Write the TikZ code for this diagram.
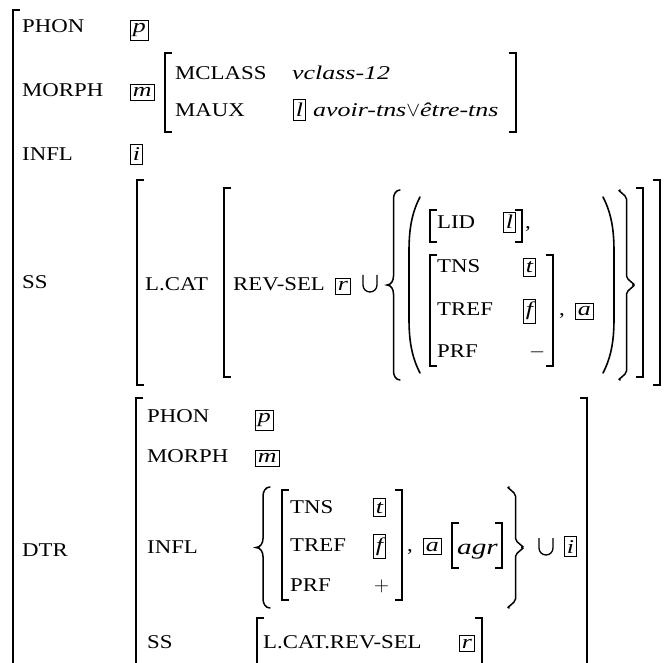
\documentclass[tikz,border=0pt]{standalone}
\usepackage{fontspec}
\setmainfont{Liberation Serif}[FakeStretch=1.17,ItalicFeatures={FakeStretch=1.33}]
\tikzset{
  lab/.style={anchor=base west, inner sep=0pt},
  tag/.style={draw, line width=0.5pt, inner xsep=2.6pt, inner ysep=3.5pt, anchor=base west, font=\fontsize{19.5}{23}\selectfont\itshape},
  brk/.style={line width=1.2pt},
  brc/.style={line width=1.5pt, line cap=round},
  prn/.style={line width=1.6pt, line cap=round},
  cupsym/.style={line width=1.3pt}
}
% square brackets: x, top, bottom
\newcommand\lbr[3]{\draw[brk] (#1+7,#2) -- (#1,#2) -- (#1,#3) -- (#1+7,#3);}
\newcommand\rbr[3]{\draw[brk] (#1-7,#2) -- (#1,#2) -- (#1,#3) -- (#1-7,#3);}
% curly braces: tip x, arm x, top, bottom
\newcommand\cbrace[4]{%
  \pgfmathsetmacro\bxm{(#1+#2)/2}%
  \pgfmathsetmacro\bym{(#3+#4)/2}%
  \pgfmathsetmacro\byA{#3+9}\pgfmathsetmacro\byB{\bym-9}%
  \pgfmathsetmacro\byC{\bym+9}\pgfmathsetmacro\byD{#4-9}%
  \draw[brc] (#2,#3) to[out=180,in=90] (\bxm,\byA) -- (\bxm,\byB) to[out=-90,in=0] (#1,\bym) to[out=0,in=90] (\bxm,\byC) -- (\bxm,\byD) to[out=-90,in=180] (#2,#4);}
% parentheses: end x, bulge x, top, bottom
\newcommand\paren[4]{%
  \pgfmathsetmacro\pxa{#2+0.15*(#1-#2)}%
  \pgfmathsetmacro\pya{#3+18}\pgfmathsetmacro\pyb{#3+36}\pgfmathsetmacro\pyc{#3+55}%
  \pgfmathsetmacro\pyd{#4-55}\pgfmathsetmacro\pye{#4-36}\pgfmathsetmacro\pyf{#4-18}%
  \draw[prn] (#1,#3) .. controls (\pxa,\pya) and (#2,\pyb) .. (#2,\pyc) -- (#2,\pyd) .. controls (#2,\pye) and (\pxa,\pyf) .. (#1,#4);}
% big union: left x, top, bottom
\newcommand\bigcupsym[3]{\draw[cupsym] (#1,#2) -- (#1,#3-7) arc[start angle=180,end angle=0,radius=7] -- (#1+14,#2);}
\begin{document}
\begin{tikzpicture}[x=1pt,y=-1pt,font=\fontsize{19.5}{23}\selectfont]
\useasboundingbox (0,0) rectangle (665,663);
\clip (0,0) rectangle (665,663);
\fill[white] (0,0) rectangle (665,663);
% outer matrix
\lbr{13}{10}{720}
\node[lab] (phon) at (22,33) {PHON};
\node[tag] (tp) at (130,33) {p};
\node[lab] (morph) at (22,97) {MORPH};
\node[tag] (tm) at (130,97) {m};
\lbr{165}{53}{132}
\rbr{516}{53}{132}
\node[lab] (mclass) at (175,79.5) {MCLASS};
\node[lab] (vclass) at (292,79.5) {\itshape vclass-12};
\node[lab] (maux) at (175,116.5) {MAUX};
\node[tag] (tl) at (293,116.5) {l};
\node[lab] (avoir) at (313,116.5) {\itshape avoir-tns$\vee$être-tns};
\node[lab] (infl) at (22,161) {INFL};
\node[tag] (ti) at (130,161) {i};
% SS
\node[lab] (ss) at (22,289) {SS};
\lbr{137}{180}{385}
\rbr{660}{180}{385}
\node[lab] (lcat) at (145,291) {L.CAT};
\lbr{224}{188}{377}
\rbr{643}{188}{377}
\node[lab] (revsel) at (233,291) {REV-SEL};
\node[tag] (tr) at (335,291) {r};
\bigcupsym{363}{275}{292}
\cbrace{387}{400}{190}{380}
\paren{420}{409}{197}{373}
\paren{603}{614}{197}{373}
\cbrace{633}{620}{190}{380}
\lbr{430}{210}{242}
\rbr{522}{210}{242}
\node[lab] (lid) at (437,229) {LID};
\node[tag] (tl2) at (503,229) {l};
\node[lab] (c1) at (525,229) {,};
\lbr{430}{255}{366}
\rbr{553}{255}{366}
\node[lab] (tns1) at (437,273) {TNS};
\node[tag] (tt1) at (523,273) {t};
\node[lab] (tref1) at (437,316) {TREF};
\node[tag] (tf1) at (523,316) {f};
\node[lab] (prf1) at (437,358) {PRF};
\node[lab] (minus) at (529,358) {$-$};
\node[lab] (c2) at (559,316) {,};
\node[tag] (ta1) at (575,316) {a};
% DTR
\node[lab] (dtr) at (22,556) {DTR};
\lbr{136}{398}{720}
\rbr{587}{398}{720}
\node[lab] (phon2) at (147,423) {PHON};
\node[tag] (tp2) at (255,423) {p};
\node[lab] (morph2) at (147,463) {MORPH};
\node[tag] (tm2) at (255,463) {m};
\node[lab] (infl2) at (147,553) {INFL};
\cbrace{256}{270}{487}{608}
\lbr{282}{490}{600}
\rbr{402}{490}{600}
\node[lab] (tns2) at (290,513) {TNS};
\node[tag] (tt2) at (373,513) {t};
\node[lab] (tref2) at (290,551) {TREF};
\node[tag] (tf2) at (373,551) {f};
\node[lab] (prf2) at (290,591) {PRF};
\node[lab] (plus) at (374,591) {$+$};
\node[lab] (c3) at (407,551) {,};
\node[tag] (ta2) at (423,551) {a};
\lbr{452}{523}{568}
\rbr{502}{523}{568}
\node[lab] (agr) at (457,554) {\fontsize{22}{26}\selectfont\itshape agr};
\cbrace{522}{509}{487}{608}
\bigcupsym{539}{538}{555}
\node[tag] (ti2) at (564,553) {i};
\node[lab] (ss2) at (147,648) {SS};
\lbr{257}{618}{700}
\rbr{482}{618}{700}
\node[lab] (lcrs) at (263,648) {L.CAT.REV-SEL};
\node[tag] (tr2) at (459,648) {r};
\end{tikzpicture}
\end{document}
